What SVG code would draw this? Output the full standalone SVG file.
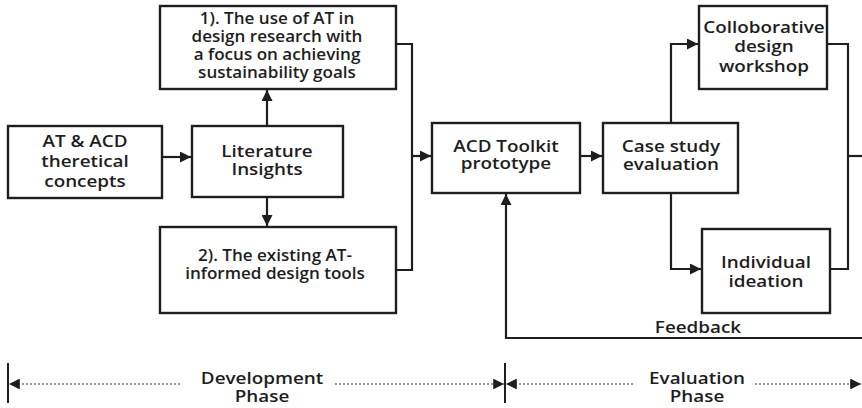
<svg xmlns="http://www.w3.org/2000/svg" width="862" height="408" viewBox="0 0 862 408">
  <style>
    .box { fill: #fff; stroke: #1e1e1e; stroke-width: 2.4; }
    .lbl { font-family: "Open Sans", "DejaVu Sans", sans-serif; font-weight: 600; font-size: 17px; fill: #1e1e1e; text-anchor: middle; }
    .sm { font-size: 15.4px; }
    .wire { fill: none; stroke: #1e1e1e; stroke-width: 2.2; }
    .dots { fill: none; stroke: #333; stroke-width: 1.2; stroke-dasharray: 2 2; }
    .tick { stroke: #1e1e1e; stroke-width: 2; }
  </style>
  <defs>
    <marker id="arrow" viewBox="0 0 10 10" refX="10" refY="5" markerWidth="5" markerHeight="5" orient="auto" markerUnits="strokeWidth">
      <path d="M0,0 L10,5 L0,10 Z" fill="#1e1e1e"/>
    </marker>
    <marker id="arrowSmall" viewBox="0 0 10 10" refX="10" refY="5" markerWidth="9" markerHeight="9" orient="auto" markerUnits="strokeWidth">
      <path d="M0,0 L10,5 L0,10 Z" fill="#1e1e1e"/>
    </marker>
  </defs>
  <!-- labels use a slightly widened face: each text is scaled 1.11 horizontally, x given in scaled units -->

  <!-- connectors -->
  <g id="connectors">
    <line class="wire" x1="162" y1="157" x2="191" y2="157" marker-end="url(#arrow)"/>
    <line class="wire" x1="267" y1="126" x2="267" y2="90" marker-end="url(#arrow)"/>
    <line class="wire" x1="267" y1="197" x2="267" y2="226" marker-end="url(#arrow)"/>
    <polyline class="wire" points="396,44 412,44 412,270 396,270"/>
    <line class="wire" x1="412" y1="156" x2="431" y2="156" marker-end="url(#arrow)"/>
    <line class="wire" x1="580" y1="156" x2="602" y2="156" marker-end="url(#arrow)"/>
    <polyline class="wire" points="671,123 671,44 698,44" marker-end="url(#arrow)"/>
    <polyline class="wire" points="671,193 671,269 701,269" marker-end="url(#arrow)"/>
    <polyline class="wire" points="827,44 848,44 848,269 830,269"/>
    <line class="wire" x1="848" y1="156" x2="862" y2="156"/>
    <polyline class="wire" points="862,338 506,338 506,194" marker-end="url(#arrow)"/>
    <text class="lbl" transform="scale(1.11 1)" x="628.83" y="333">Feedback</text>
  </g>

  <g id="concepts">
    <rect class="box" x="8" y="126" width="154" height="72"/>
    <text class="lbl" transform="scale(1.11 1)" x="76.58" y="147.5">AT &amp; ACD</text>
    <text class="lbl" transform="scale(1.11 1)" x="76.58" y="167.5">theretical</text>
    <text class="lbl" transform="scale(1.11 1)" x="76.58" y="187">concepts</text>
  </g>

  <g id="literature">
    <rect class="box" x="192" y="126" width="151" height="71"/>
    <text class="lbl" transform="scale(1.11 1)" x="240.54" y="157">Literature</text>
    <text class="lbl" transform="scale(1.11 1)" x="240.54" y="175.5">Insights</text>
  </g>

  <g id="insight-1">
    <rect class="box" x="160" y="6" width="236" height="83"/>
    <text class="lbl sm" transform="scale(1.11 1)" x="249.55" y="24">1). The use of AT in</text>
    <text class="lbl sm" transform="scale(1.11 1)" x="249.55" y="42">design research with</text>
    <text class="lbl sm" transform="scale(1.11 1)" x="249.55" y="60">a focus on achieving</text>
    <text class="lbl sm" transform="scale(1.11 1)" x="249.55" y="78">sustainability goals</text>
  </g>

  <g id="insight-2">
    <rect class="box" x="160" y="227" width="236" height="86"/>
    <text class="lbl sm" transform="scale(1.11 1)" x="247.75" y="261">2). The existing AT-</text>
    <text class="lbl sm" transform="scale(1.11 1)" x="247.75" y="279">informed design tools</text>
  </g>

  <g id="toolkit">
    <rect class="box" x="432" y="123" width="148" height="70"/>
    <text class="lbl" transform="scale(1.11 1)" x="455.86" y="152">ACD Toolkit</text>
    <text class="lbl" transform="scale(1.11 1)" x="455.86" y="169.5">prototype</text>
  </g>

  <g id="case-study">
    <rect class="box" x="603" y="123" width="135" height="70"/>
    <text class="lbl" transform="scale(1.11 1)" x="604.5" y="152">Case study</text>
    <text class="lbl" transform="scale(1.11 1)" x="604.5" y="170">evaluation</text>
  </g>

  <g id="workshop">
    <rect class="box" x="699" y="6" width="128" height="83"/>
    <text class="lbl" transform="scale(1.11 1)" x="688.29" y="33">Colloborative</text>
    <text class="lbl" transform="scale(1.11 1)" x="688.29" y="52.5">design</text>
    <text class="lbl" transform="scale(1.11 1)" x="688.29" y="72">workshop</text>
  </g>

  <g id="ideation">
    <rect class="box" x="702" y="229" width="128" height="84"/>
    <text class="lbl" transform="scale(1.11 1)" x="690.09" y="268">Individual</text>
    <text class="lbl" transform="scale(1.11 1)" x="690.09" y="287">ideation</text>
  </g>

  <!-- phase timeline -->
  <g id="phases">
    <line class="tick" x1="8" y1="363" x2="8" y2="403"/>
    <line class="tick" x1="505" y1="363" x2="505" y2="403"/>
    <line class="dots" x1="180" y1="384" x2="9" y2="384" marker-end="url(#arrowSmall)"/>
    <line class="dots" x1="335" y1="384" x2="504" y2="384" marker-end="url(#arrowSmall)"/>
    <line class="dots" x1="633" y1="384" x2="506" y2="384" marker-end="url(#arrowSmall)"/>
    <line class="dots" x1="755" y1="384" x2="861" y2="384" marker-end="url(#arrowSmall)"/>
    <text class="lbl" transform="scale(1.11 1)" x="236.04" y="384">Development</text>
    <text class="lbl" transform="scale(1.11 1)" x="236.04" y="402">Phase</text>
    <text class="lbl" transform="scale(1.11 1)" x="627.93" y="384">Evaluation</text>
    <text class="lbl" transform="scale(1.11 1)" x="627.93" y="402">Phase</text>
  </g>
</svg>
